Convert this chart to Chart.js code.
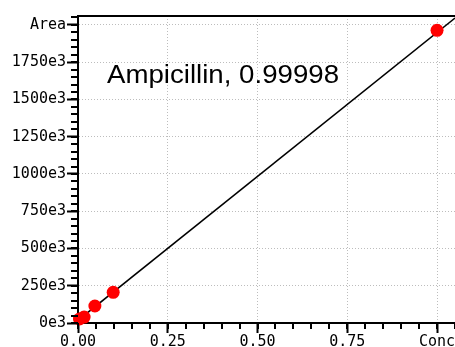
<!DOCTYPE html>
<html>
<head>
<meta charset="utf-8">
<script src="https://cdn.jsdelivr.net/npm/chart.js@4"></script>
<style>
  html, body { margin: 0; padding: 0; background: #fff; }
  canvas { display: block; }
</style>
</head>
<body>
<canvas id="calChart" width="455" height="347"></canvas>
<script>
// measured standards
const concX = [0.004, 0.017, 0.047, 0.098, 1.0];
const areaY = [27000, 40000, 114000, 206000, 1964000];

// calibration line (read at both ends of the plot)
const fitX = [0, 1.05];
const fitY = [18000, 2046000];

const xTickValues = [0, 0.25, 0.5, 0.75, 1.0];
const xTickLabels = ['0.00', '0.25', '0.50', '0.75', 'Conc'];
const yTickValues = [0, 250000, 500000, 750000, 1000000, 1250000, 1500000, 1750000, 2000000];
const yTickLabels = ['0e3', '250e3', '500e3', '750e3', '1000e3', '1250e3', '1500e3', '1750e3', 'Area'];

const titleText = 'Ampicillin, 0.99998';

const tickFont = { family: '"DejaVu Sans Mono", monospace', size: 15 };

// minor ticks, top frame line and the label inside the plot
const decorations = {
    id: 'decorations',
    afterDraw(chart) {
        const ctx = chart.ctx;
        const area = chart.chartArea;
        const x = chart.scales.x;
        const y = chart.scales.y;
        ctx.save();
        ctx.strokeStyle = '#000';
        ctx.lineWidth = 2;
        ctx.beginPath();
        for (let i = 0; i * 50000 <= y.max; i++) {
            const py = Math.round(y.getPixelForValue(i * 50000));
            ctx.moveTo(area.left - 7, py);
            ctx.lineTo(area.left, py);
        }
        for (let i = 0; i * 0.05 <= x.max; i++) {
            const px = Math.round(x.getPixelForValue(i * 0.05));
            ctx.moveTo(px, area.bottom);
            ctx.lineTo(px, area.bottom + 6);
        }
        ctx.moveTo(area.left, area.top);
        ctx.lineTo(area.right, area.top);
        ctx.stroke();

        // label is a bit wider than plain Liberation Sans, stretch it
        ctx.fillStyle = '#000';
        ctx.font = '25px "Liberation Sans", Arial, sans-serif';
        ctx.textBaseline = 'alphabetic';
        const w = ctx.measureText(titleText).width;
        ctx.translate(area.left + 29, area.top + 67);
        ctx.scale(232 / w, 1);
        ctx.fillText(titleText, 0, 0);
        ctx.restore();
    }
};

const ctx = document.getElementById('calChart').getContext('2d');
new Chart(ctx, {
    type: 'scatter',
    data: {
        datasets: [
            {
                label: 'Standards',
                data: concX.map((c, i) => ({ x: c, y: areaY[i] })),
                backgroundColor: '#ff0000',
                borderWidth: 0,
                pointRadius: 6.5,
                clip: false,
                order: 0
            },
            {
                label: 'Fit',
                data: fitX.map((c, i) => ({ x: c, y: fitY[i] })),
                showLine: true,
                borderColor: '#000',
                borderWidth: 1.5,
                pointRadius: 0,
                order: 1
            }
        ]
    },
    options: {
        responsive: false,
        devicePixelRatio: 1,
        animation: false,
        layout: {
            autoPadding: false,
            padding: { top: 16, left: 0, right: 0, bottom: 0 }
        },
        plugins: {
            legend: { display: false },
            tooltip: { enabled: false }
        },
        scales: {
            x: {
                type: 'linear',
                min: 0,
                max: 1.05,
                afterBuildTicks: (scale) => {
                    scale.ticks = xTickValues.map(v => ({ value: v }));
                },
                afterFit: (scale) => {
                    scale.height = 24;
                    scale.paddingLeft = 0;
                    scale.paddingRight = 0;
                },
                ticks: {
                    callback: (value, index) => xTickLabels[index],
                    font: tickFont,
                    color: '#000',
                    padding: 0,
                    maxRotation: 0,
                    autoSkip: false
                },
                grid: {
                    color: '#bdbdbd',
                    lineWidth: 1,
                    tickLength: 10,
                    tickColor: '#000',
                    tickWidth: 2
                },
                border: { color: '#000', width: 2, dash: [1, 2] }
            },
            y: {
                type: 'linear',
                min: 0,
                max: 2060000,
                afterBuildTicks: (scale) => {
                    scale.ticks = yTickValues.map(v => ({ value: v }));
                },
                afterFit: (scale) => {
                    scale.width = 78;
                },
                ticks: {
                    callback: (value, index) => yTickLabels[index],
                    font: tickFont,
                    color: '#000',
                    padding: 1,
                    autoSkip: false
                },
                grid: {
                    color: '#bdbdbd',
                    lineWidth: 1,
                    tickLength: 11,
                    tickColor: '#000',
                    tickWidth: 2
                },
                border: { color: '#000', width: 2, dash: [1, 2] }
            }
        }
    },
    plugins: [decorations]
});
</script>
</body>
</html>
